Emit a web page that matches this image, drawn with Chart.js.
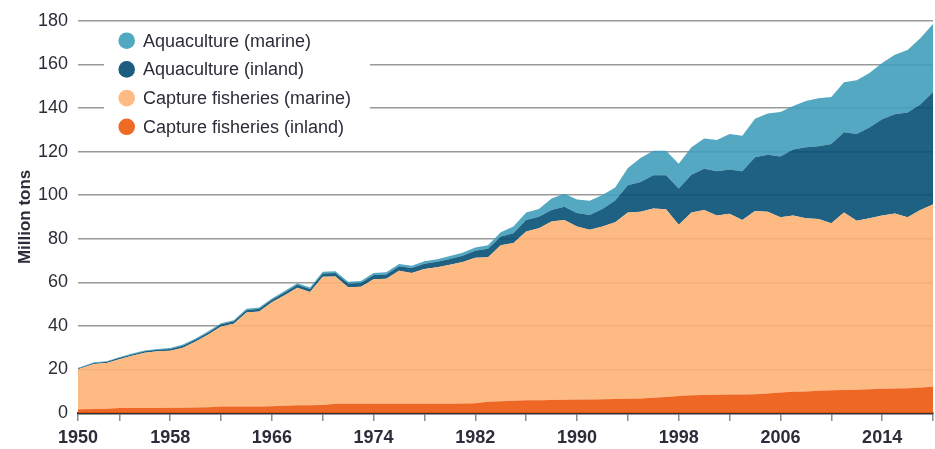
<!DOCTYPE html>
<html>
<head>
<meta charset="utf-8">
<script src="https://cdn.jsdelivr.net/npm/chart.js@4.4.0/dist/chart.umd.min.js"></script>
<style>
  html, body { margin: 0; padding: 0; background: #fff; }
  #wrap { position: relative; width: 935px; height: 449px; }
</style>
</head>
<body>
<div id="wrap"><canvas id="chart"></canvas></div>
<script>
// data, million tons per year
const years = [
  1950,1951,1952,1953,1954,1955,1956,1957,1958,1959,
  1960,1961,1962,1963,1964,1965,1966,1967,1968,1969,
  1970,1971,1972,1973,1974,1975,1976,1977,1978,1979,
  1980,1981,1982,1983,1984,1985,1986,1987,1988,1989,
  1990,1991,1992,1993,1994,1995,1996,1997,1998,1999,
  2000,2001,2002,2003,2004,2005,2006,2007,2008,2009,
  2010,2011,2012,2013,2014,2015,2016,2017,2018
];
const captureInland = [
  1.6,1.7,1.8,1.9,2.3,2.3,2.3,2.3,2.4,2.4,
  2.5,2.6,3.0,3.0,3.0,3.0,3.1,3.3,3.5,3.6,
  3.7,4.2,4.2,4.2,4.2,4.2,4.2,4.2,4.2,4.2,
  4.3,4.4,4.5,5.2,5.4,5.6,5.8,5.9,6.0,6.1,
  6.2,6.2,6.3,6.4,6.5,6.7,7.0,7.4,7.8,8.1,
  8.3,8.4,8.5,8.5,8.6,9.0,9.4,9.7,9.9,10.2,
  10.4,10.6,10.7,10.9,11.1,11.3,11.4,11.7,12.0
];
const captureMarine = [
  17.0,18.8,20.7,21.1,22.4,24.0,25.3,26.0,26.2,27.6,
  30.3,33.4,36.7,38.0,43.1,43.6,47.7,50.7,54.0,51.9,
  58.8,58.4,53.5,53.7,57.2,57.4,61.1,60.1,61.9,62.7,
  63.7,64.9,66.7,66.3,71.6,72.4,77.5,78.9,81.9,82.5,
  79.4,77.9,79.3,81.1,85.5,85.7,86.9,86.1,78.6,83.9,
  84.9,82.2,82.9,80.1,84.1,83.4,80.4,80.9,79.5,78.8,
  76.7,81.4,77.5,78.5,79.5,80.3,78.4,81.5,83.7
];
const aquaInland = [
  0.4,0.4,0.5,0.5,0.6,0.6,0.7,0.7,0.8,0.9,
  0.9,1.0,1.0,1.1,1.1,1.2,1.2,1.3,1.4,1.4,
  1.5,1.6,1.7,1.8,1.9,2.0,2.1,2.2,2.4,2.5,
  2.7,2.9,3.3,3.9,4.0,4.5,5.3,5.3,5.3,6.1,
  6.2,6.8,8.0,10.0,12.5,13.6,15.2,15.6,16.6,17.4,
  18.9,20.3,20.4,22.3,24.7,26.1,27.9,30.3,32.6,33.4,
  36.4,36.8,39.8,41.6,44.2,45.5,48.1,48.4,51.6
];
const aquaMarine = [
  0.3,0.3,0.3,0.3,0.3,0.4,0.4,0.4,0.4,0.5,
  0.5,0.5,0.5,0.5,0.6,0.6,0.6,0.7,0.7,0.7,
  0.8,0.8,0.8,0.9,0.9,1.0,1.0,1.1,1.1,1.2,
  1.3,1.4,1.5,1.6,2.0,3.1,3.4,3.5,5.2,5.9,
  6.2,6.5,6.4,6.0,8.0,11.0,11.3,11.3,11.4,12.6,
  13.9,14.4,16.2,16.4,17.6,18.9,20.5,20.0,21.2,22.0,
  21.5,23.0,24.7,25.0,25.8,27.3,28.7,30.4,31.2
];
const tickYears = [1950,1954,1958,1962,1966,1970,1974,1978,1982,1986,1990,1994,1998,2002,2006,2010,2014,2018];
const labelYears = [1950,1958,1966,1974,1982,1990,1998,2006,2014];
const yTicks = [0,20,40,60,80,100,120,140,160,180];

const FONT = '"Liberation Sans", Arial, sans-serif';
const TEXT = '#2c2c3a';
const xMin = 1950.75; // the plot starts a little after the 1950 point

Chart.defaults.font.family = FONT;

function pts(arr) {
  return arr.map((v, i) => ({ x: years[i], y: v }));
}

// bottom to top of the stack
const series = [
  { label: 'Capture fisheries (inland)', data: captureInland, fill: 'rgba(236,86,12,0.9)', dot: '#ee6a25' },
  { label: 'Capture fisheries (marine)', data: captureMarine, fill: 'rgba(253,179,118,0.9)', dot: '#fdba83' },
  { label: 'Aquaculture (inland)', data: aquaInland, fill: 'rgba(6,80,116,0.9)', dot: '#1d5e80' },
  { label: 'Aquaculture (marine)', data: aquaMarine, fill: 'rgba(65,159,187,0.9)', dot: '#50a8c1' }
];

const legendBox = {
  id: 'legendBox',
  afterDraw(chart) {
    var ctx = chart.ctx;
    ctx.save();
    ctx.fillStyle = '#fff';
    ctx.fillRect(104, 25, 266, 116);
    ctx.font = '18px ' + FONT;
    ctx.textBaseline = 'middle';
    var items = series.slice().reverse();
    items.forEach(function (s, i) {
      var y = 40.7 + i * 28.7;
      ctx.beginPath();
      ctx.arc(126.7, y, 8.3, 0, Math.PI * 2);
      ctx.fillStyle = s.dot;
      ctx.fill();
      ctx.fillStyle = TEXT;
      ctx.fillText(s.label, 143, y + 1);
    });
    ctx.restore();
  }
};

new Chart(document.getElementById('chart'), {
  type: 'line',
  data: {
    datasets: series.map((s, i) => ({
      label: s.label,
      data: pts(s.data),
      backgroundColor: s.fill,
      borderWidth: 0,
      pointRadius: 0,
      tension: 0,
      fill: i === 0 ? 'origin' : '-1'
    }))
  },
  options: {
    responsive: true,
    maintainAspectRatio: false,
    animation: false,
    devicePixelRatio: 1,
    layout: { padding: { top: 17, right: 2, left: 0, bottom: 0 } },
    plugins: { legend: { display: false }, tooltip: { enabled: false } },
    scales: {
      x: {
        type: 'linear',
        min: xMin,
        max: 2018,
        afterBuildTicks: function (axis) {
          axis.ticks = tickYears.map(v => ({ value: Math.max(v, xMin) }));
        },
        ticks: {
          autoSkip: false,
          maxRotation: 0,
          padding: 6,
          color: TEXT,
          font: { size: 18, weight: 'bold' },
          callback: function (v) {
            var yr = Math.floor(v);
            return labelYears.includes(yr) ? String(yr) : '';
          }
        },
        grid: { drawOnChartArea: false, drawTicks: true, tickLength: 8, color: '#8c8c8c', lineWidth: 1.5 },
        border: { display: true, color: '#333', width: 2.5 },
        afterFit: function (s) {
          s.height = 36;
          // the tick padding would otherwise push the plot in from the right edge
          s.paddingRight = 0;
          s.paddingLeft = 0;
        }
      },
      y: {
        stacked: true,
        min: 0,
        max: 180,
        afterBuildTicks: function (axis) {
          axis.ticks = yTicks.map(v => ({ value: v }));
        },
        ticks: { padding: 10, color: TEXT, font: { size: 18 } },
        grid: { color: '#999', lineWidth: 1.5, drawTicks: false },
        border: { display: false },
        title: {
          display: true,
          text: 'Million tons',
          color: TEXT,
          font: { size: 17, weight: 'bold' },
          padding: { top: 15, bottom: 0 }
        },
        afterFit: function (s) { s.width = 78; }
      }
    }
  },
  plugins: [legendBox]
});
</script>
</body>
</html>
